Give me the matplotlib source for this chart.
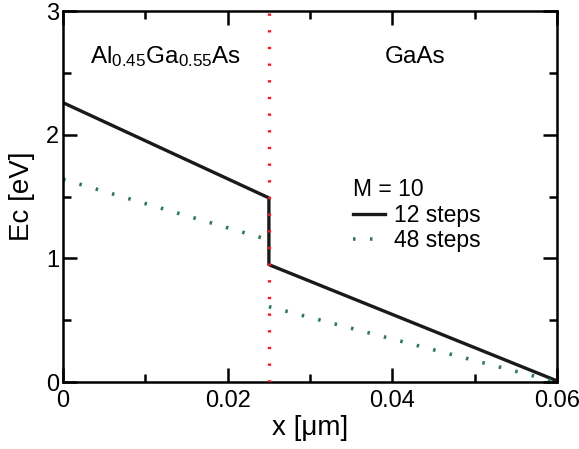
import matplotlib
matplotlib.use("Agg")
import matplotlib.pyplot as plt
from matplotlib.ticker import MultipleLocator

plt.rcParams['font.family'] = ['Liberation Sans', 'DejaVu Sans']
plt.rcParams['mathtext.default'] = 'regular'

# data
x_12 = [0.0, 0.025, 0.025, 0.06]
ec_12 = [2.26, 1.49, 0.95, 0.01]
x_48_left = [0.0, 0.025]
ec_48_left = [1.64, 1.15]
x_48_right = [0.025, 0.06]
ec_48_right = [0.61, 0.0]
x_interface = 0.025

fig = plt.figure(figsize=(5.79, 4.49), dpi=100)
ax = fig.add_axes([0.109, 0.149, 0.853, 0.826])

ax.axvline(x_interface, color='#ee1c24', lw=2.4, linestyle=(0, (0.7, 4.3)), zorder=3)
ax.plot(x_12, ec_12, color='#1a1a1a', lw=2.4, label='12 steps', zorder=2)
ax.plot(x_48_left, ec_48_left, color='#2f7a55', lw=2.6, linestyle=(0, (0.7, 4.0)),
        label='48 steps', zorder=2)
ax.plot(x_48_right, ec_48_right, color='#2f7a55', lw=2.6, linestyle=(0, (0.7, 4.0)), zorder=2)

ax.set_xlim(0, 0.06)
ax.set_ylim(0, 3)
ax.xaxis.set_major_locator(MultipleLocator(0.02))
ax.xaxis.set_minor_locator(MultipleLocator(0.01))
ax.yaxis.set_major_locator(MultipleLocator(1))
ax.yaxis.set_minor_locator(MultipleLocator(0.5))
ax.xaxis.set_major_formatter(plt.FuncFormatter(lambda v, p: '0' if v == 0 else f'{v:g}'))
ax.tick_params(which='both', direction='in', top=True, right=True, width=1.8, labelsize=17)
ax.tick_params(which='major', length=10)
ax.tick_params(which='minor', length=6)
ax.tick_params(axis='x', pad=6)
ax.tick_params(axis='y', pad=3)
for s in ax.spines.values():
    s.set_linewidth(1.8)

ax.set_xlabel('x [μm]', fontsize=20, labelpad=2)
ax.set_ylabel('Ec [eV]', fontsize=20, labelpad=8)

ax.text(0.0124, 2.63, 'Al$_{0.45}$Ga$_{0.55}$As', fontsize=17.5, ha='center', va='center')
ax.text(0.0428, 2.63, 'GaAs', fontsize=17.5, ha='center', va='center')

leg = ax.legend(title='M = 10', loc='upper left', bbox_to_anchor=(0.587, 0.55),
                frameon=False, fontsize=16.5, title_fontsize=16.5, handlelength=1.4,
                handletextpad=0.4, labelspacing=0.1, borderaxespad=0, borderpad=0)
leg._legend_box.align = 'left'
leg._legend_box.sep = 2

fig.savefig('out.png', dpi=100)
